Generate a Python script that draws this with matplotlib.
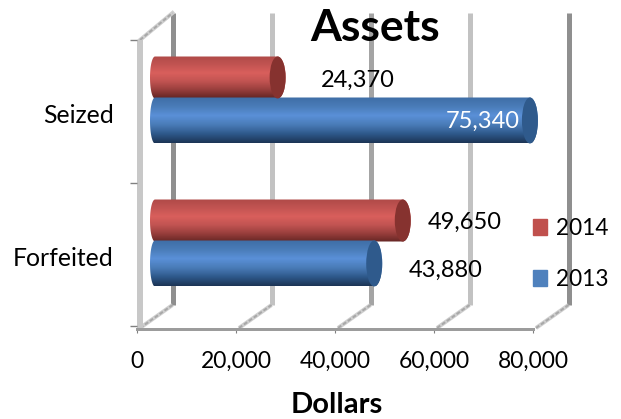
import numpy as np
import matplotlib
matplotlib.use('Agg')
import matplotlib.pyplot as plt
from matplotlib.colors import LinearSegmentedColormap
from matplotlib.patches import Polygon, Ellipse, Patch
from matplotlib.transforms import ScaledTranslation

plt.rcParams['font.family'] = ['Lato', 'DejaVu Sans']

categories = ['Forfeited', 'Seized']
values_2013 = [43880, 75340]
values_2014 = [49650, 24370]
x_ticks = [0, 20000, 40000, 60000, 80000]

W, H = 621, 419
fig = plt.figure(figsize=(W / 100, H / 100), dpi=100)
# front plane of the fake 3d box: px 137..533 across, px 40..326 down
# xlim runs past 80,000 so the longest bar end does not get cut
ax = fig.add_axes([137 / W, 1 - 326 / H, 445.5 / W, 286 / H])
ax.set_xlim(0, 90000)
ax.set_ylim(0, 2)
ax.patch.set_alpha(0)

px = 80000 / 396   # dollars per pixel
py = 2 / 286       # category units per pixel
lw = 0.72          # points per pixel

# back wall
dx, dy = 35.5 * px, 21 * py
wall_cols = ['#8f8f8f', '#c2c2c2', '#a4a4a4', '#c2c2c2', '#8f8f8f']
for t, c in zip(x_ticks, wall_cols):
    ax.plot([t + dx, t + dx], [dy, 2 + 27 * py], color=c, lw=5 * lw, clip_on=False, zorder=1, solid_capstyle='butt')
    ax.plot([t + 3 * px, t + dx], [-2 * py, dy], color='#cfcfcf', lw=4 * lw, clip_on=False, zorder=1, solid_capstyle='butt')
    ax.plot([t + 3 * px, t + dx], [-2 * py, dy], color='#a8a8a8', lw=2 * lw, ls=(0, (2, 1)), clip_on=False, zorder=1)
ax.plot([3 * px, dx], [2, 2 + 27 * py], color='#cfcfcf', lw=4 * lw, clip_on=False, zorder=1)
ax.plot([3 * px, dx], [2, 2 + 27 * py], color='#a8a8a8', lw=2 * lw, ls=(0, (2, 1)), clip_on=False, zorder=1)
ax.plot([3 * px, 3 * px], [-2 * py, 2], color='#c8c8c8', lw=6 * lw, clip_on=False, zorder=1, solid_capstyle='butt')


def cylinder(value, yc, height, cols, cap):
    # horizontal cylinder with a vertical shaded gradient
    x0 = 155 - 137
    x1 = x0 + value / px + 2
    rx, ry = 8, height / 2
    t = np.linspace(-np.pi / 2, np.pi / 2, 40)
    right = np.c_[(x1 + rx * np.cos(t)) * px, yc + ry * np.sin(t) * py]
    left = np.c_[(x0 - 5 * np.cos(t[::-1])) * px, yc + ry * np.sin(t[::-1]) * py]
    shape = Polygon(np.vstack([right, left]), closed=True, transform=ax.transData, fc='none', ec='none')
    ax.add_patch(shape)
    cmap = LinearSegmentedColormap.from_list('c', cols)
    im = ax.imshow(np.linspace(0, 1, 64).reshape(-1, 1), cmap=cmap, aspect='auto', zorder=3,
                   extent=[(x0 - 5) * px, (x1 + rx) * px, yc - ry * py, yc + ry * py], origin='upper')
    im.set_clip_path(shape)
    ax.add_patch(Ellipse((x1 * px, yc), 2 * rx * px, height * py, fc=cap, ec='none', zorder=4))


blue = ['#3f6ea6', '#4a7cb8', '#5a90d8', '#4a7cb8', '#2f5a8c', '#1c3556']
red = ['#b04a48', '#c25452', '#d95f5c', '#c25452', '#9a3f3d', '#662624']
for i, cat in enumerate(categories):
    yc = i + 0.5
    cylinder(values_2014[i], yc + 34 * py, 42, red, '#86322f')
    cylinder(values_2013[i], yc - 9 * py, 46, blue, '#2f5a8c')
ax.set_xlim(0, 90000)
ax.set_ylim(0, 2)

# data labels, placed by hand like in the original
ax.annotate(f'{values_2014[1]:,}', (values_2014[1], 1.5), xytext=(358 - 137 - values_2014[1] / px, 31), textcoords='offset pixels', ha='center', va='center', fontsize=17, zorder=5)
ax.annotate(f'{values_2013[1]:,}', (values_2013[1], 1.5), xytext=(483 - 137 - values_2013[1] / px, -10), textcoords='offset pixels', ha='center', va='center', fontsize=17, color='white', zorder=5)
ax.annotate(f'{values_2014[0]:,}', (values_2014[0], 0.5), xytext=(465 - 137 - values_2014[0] / px, 32), textcoords='offset pixels', ha='center', va='center', fontsize=17, zorder=5)
ax.annotate(f'{values_2013[0]:,}', (values_2013[0], 0.5), xytext=(446 - 137 - values_2013[0] / px, -16), textcoords='offset pixels', ha='center', va='center', fontsize=17, zorder=5)

for s in ['top', 'right']:
    ax.spines[s].set_visible(False)
ax.spines['left'].set_visible(False)
ax.spines['bottom'].set_position(('outward', 3 * lw))
ax.spines['bottom'].set_color('#9c9c9c')
ax.spines['bottom'].set_linewidth(3 * lw)
ax.spines['bottom'].set_zorder(2)
ax.spines['bottom'].set_bounds(0, 80000)

ax.set_xticks(x_ticks)
ax.set_xticklabels([f'{t:,}' for t in x_ticks], fontsize=16.5)
ax.tick_params(axis='x', length=3, color='#808080', pad=13)
ax.set_yticks([0, 1, 2])
ax.set_yticklabels([])
ax.tick_params(axis='y', length=7 * lw, color='#808080', width=1)
ax.set_yticks([i + 0.5 for i in range(len(categories))], labels=categories, minor=True, fontsize=17.8)
ax.tick_params(axis='y', which='minor', length=0, pad=17)
shift = ScaledTranslation(0, -1.5 / 100, fig.dpi_scale_trans)
for lab in ax.get_yticklabels(minor=True):
    lab.set_transform(lab.get_transform() + shift)

ax.set_xlabel('Dollars', fontsize=21, fontweight='bold')
ax.xaxis.set_label_coords(200 / 445.5, -66 / 286)
fig.text(375 / W, 1 - 28 / H, 'Assets', fontsize=32, fontweight='bold', ha='center', va='center', zorder=6)

handles = [Patch(color='#c0504d', label='2014'), Patch(color='#4f81bd', label='2013')]
fig.legend(handles=handles, loc='center left', bbox_to_anchor=(513 / W, 1 - 254 / H), frameon=False, fontsize=16.3,
           handlelength=0.6, handleheight=0.7, labelspacing=1.3, handletextpad=0.4)

fig.savefig('out.png', dpi=100)
